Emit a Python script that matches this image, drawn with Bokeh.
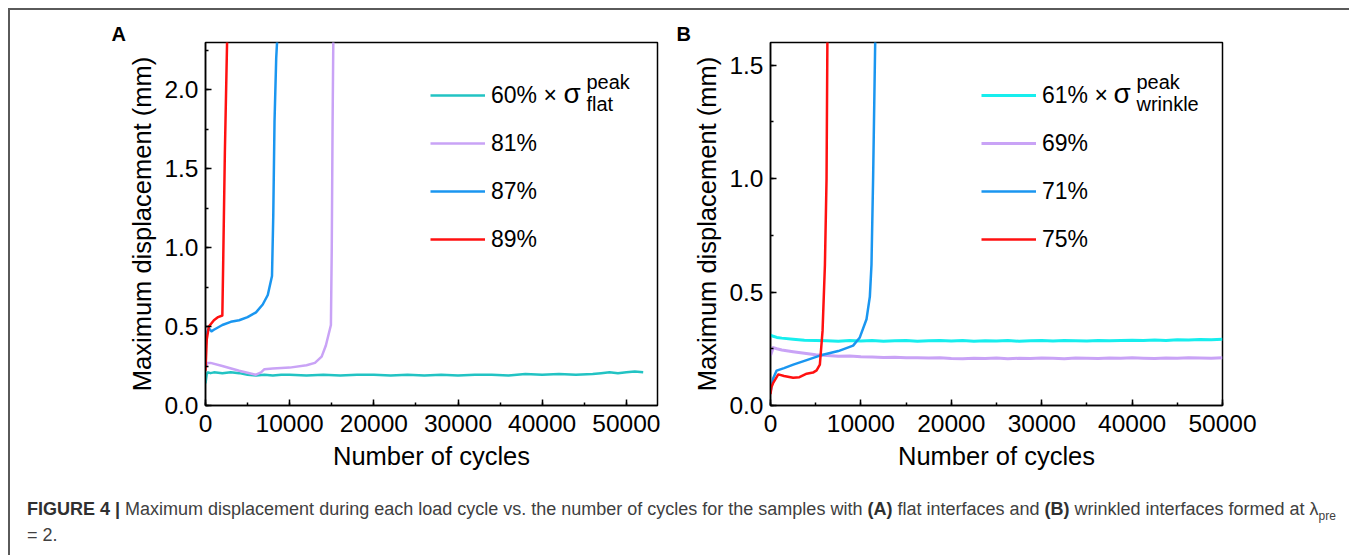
from bokeh.plotting import figure
from bokeh.models import (Legend, LegendItem, Label, Div, Range1d, Title,
                          SingleIntervalTicker, NumeralTickFormatter)
from bokeh.layouts import column, row
from bokeh.embed import file_html
from bokeh.resources import INLINE

# ---------------- data: panel A (flat interfaces) ----------------
cyc_a60 = [0, 150, 300, 600, 1000, 2000, 3000, 4000, 5000, 6000, 7000, 8000, 9000, 10000,
           12000, 14000, 16000, 18000, 20000, 22000, 24000, 26000, 28000, 30000, 32000,
           34000, 36000, 38000, 40000, 42000, 44000, 46000, 47000, 48000, 49000, 50000,
           51000, 52000]
disp_a60 = [0.14, 0.20, 0.21, 0.205, 0.21, 0.205, 0.21, 0.205, 0.195, 0.19, 0.195, 0.19,
            0.195, 0.195, 0.19, 0.195, 0.19, 0.195, 0.195, 0.19, 0.195, 0.19, 0.195, 0.19,
            0.195, 0.195, 0.19, 0.2, 0.195, 0.2, 0.195, 0.2, 0.205, 0.21, 0.205, 0.21,
            0.215, 0.21]
cyc_a81 = [0, 200, 600, 2000, 4000, 6000, 6600, 7000, 8000, 10000, 12000, 13000, 13800,
           14300, 14900, 15000, 15100, 15200]
disp_a81 = [0.23, 0.27, 0.27, 0.25, 0.22, 0.195, 0.21, 0.23, 0.235, 0.24, 0.255, 0.27, 0.31,
            0.38, 0.51, 1.0, 1.8, 2.4]
cyc_a87 = [0, 150, 400, 700, 1000, 2000, 3000, 4000, 5000, 6000, 6800, 7400, 7900, 8050,
           8200, 8400, 8600]
disp_a87 = [0.36, 0.46, 0.49, 0.47, 0.48, 0.51, 0.53, 0.54, 0.56, 0.59, 0.64, 0.70, 0.82,
            1.2, 1.8, 2.2, 2.4]
cyc_a89 = [0, 150, 400, 1000, 1500, 2000, 2100, 2300, 2600]
disp_a89 = [0.22, 0.42, 0.50, 0.54, 0.56, 0.57, 0.9, 1.6, 2.4]
labels_a = ["60% \u00d7", "81%", "87%", "89%"]

# ---------------- data: panel B (wrinkled interfaces) ----------------
cyc_b_long = [0, 300, 700, 1250, 2500, 3750, 5000, 6250, 7500, 8750, 10000, 11250, 12500,
              13750, 15000, 16250, 17500, 18750, 20000, 21250, 22500, 23750, 25000, 26250,
              27500, 28750, 30000, 31250, 32500, 33750, 35000, 36250, 37500, 38750, 40000,
              41250, 42500, 43750, 45000, 46250, 47500, 48750, 50000]
disp_b61 = [0.31, 0.305, 0.30, 0.297, 0.292, 0.288, 0.287, 0.285, 0.283, 0.286,
            0.284, 0.287, 0.283, 0.285, 0.286, 0.283, 0.285, 0.287, 0.284, 0.286,
            0.283, 0.285, 0.284, 0.286, 0.283, 0.285, 0.287, 0.284, 0.286, 0.285,
            0.284, 0.287, 0.285, 0.286, 0.288, 0.286, 0.289, 0.287, 0.29, 0.289,
            0.291, 0.29, 0.292]
disp_b69 = [0.22, 0.255, 0.25, 0.245, 0.237, 0.23, 0.224, 0.22, 0.217, 0.218,
            0.215, 0.214, 0.212, 0.213, 0.21, 0.211, 0.209, 0.21, 0.207, 0.206,
            0.208, 0.207, 0.209, 0.206, 0.208, 0.207, 0.209, 0.208, 0.206, 0.209,
            0.208, 0.207, 0.209, 0.208, 0.21, 0.208, 0.207, 0.209, 0.208, 0.21,
            0.209, 0.208, 0.21]
cyc_b71 = [0, 300, 680, 1500, 2520, 4000, 5460, 7500, 9140, 9880, 10620, 10990, 11170,
           11350, 11600]
disp_b71 = [0.06, 0.12, 0.154, 0.165, 0.18, 0.20, 0.22, 0.24, 0.264, 0.30, 0.38, 0.48, 0.62,
            1.0, 1.65]
cyc_b75 = [0, 100, 300, 860, 1500, 2500, 3200, 4000, 4700, 5100, 5460, 5760, 6020, 6200,
           6300]
disp_b75 = [0.05, 0.08, 0.10, 0.137, 0.13, 0.122, 0.125, 0.14, 0.145, 0.155, 0.18, 0.33,
            0.62, 1.0, 1.65]
labels_b = ["61% \u00d7", "69%", "71%", "75%"]

x_ticks_interval = 10000
y_ticks_interval = 0.5

FONT = "Liberation Sans"


def make_fig(width, xmax, ymax, ml, mr, letter):
    p = figure(width=width, height=465, x_range=Range1d(0, xmax), y_range=Range1d(0, ymax),
               output_backend="svg", toolbar_location=None,
               min_border_left=ml, min_border_right=mr, min_border_top=32,
               min_border_bottom=70)
    p.title = Title(text=letter, align="left", offset=-94, standoff=-4,
                    text_font=FONT, text_font_size="20px", text_font_style="bold",
                    text_color="#000000")
    p.grid.visible = False
    p.outline_line_color = "#000000"
    p.outline_line_width = 1.5
    p.xaxis.ticker = SingleIntervalTicker(interval=x_ticks_interval, num_minor_ticks=2)
    p.yaxis.ticker = SingleIntervalTicker(interval=y_ticks_interval, num_minor_ticks=2)
    p.xaxis.formatter = NumeralTickFormatter(format="0")
    p.yaxis.formatter = NumeralTickFormatter(format="0.0")
    p.xaxis.axis_label = "Number of cycles"
    p.yaxis.axis_label = "Maximum displacement (mm)"
    for ax in (p.xaxis[0], p.yaxis[0]):
        ax.axis_line_width = 1.5
        ax.axis_line_color = "#000000"
        ax.major_tick_in = 6
        ax.major_tick_out = 0
        ax.minor_tick_in = 3
        ax.minor_tick_out = 0
        ax.major_tick_line_width = 1.5
        ax.minor_tick_line_width = 1.5
        ax.major_tick_line_color = "#000000"
        ax.minor_tick_line_color = "#000000"
        ax.major_label_text_font = FONT
        ax.major_label_text_font_size = "24.5px"
        ax.major_label_text_color = "#000000"
        ax.axis_label_text_font = FONT
        ax.axis_label_text_font_size = "25.5px"
        ax.axis_label_text_font_style = "normal"
        ax.axis_label_text_color = "#000000"
    p.xaxis.major_label_standoff = 9
    p.yaxis.major_label_standoff = 7
    p.xaxis.axis_label_standoff = 7
    p.yaxis.axis_label_standoff = 5
    return p


def add_legend(p, renderers, labels, vx):
    items = [LegendItem(label=l, renderers=[r]) for l, r in zip(labels, renderers)]
    leg = Legend(items=items, location=(vx, 152), orientation="vertical",
                 border_line_color=None, background_fill_alpha=0, padding=0, margin=0,
                 spacing=20, glyph_width=55, glyph_height=28, label_height=28,
                 label_standoff=6, label_text_font=FONT, label_text_font_size="23px",
                 label_text_color="#000000")
    p.add_layout(leg)


def add_sigma(p, x0, sub):
    p.add_layout(Label(x=x0, y=312, x_units="screen", y_units="screen", text="\u03c3",
                       text_font=FONT, text_font_size="28px", text_color="#000000",
                       text_baseline="middle"))
    p.add_layout(Label(x=x0 + 23, y=324, x_units="screen", y_units="screen", text="peak",
                       text_font=FONT, text_font_size="20px", text_color="#000000",
                       text_baseline="middle"))
    p.add_layout(Label(x=x0 + 23, y=302, x_units="screen", y_units="screen", text=sub,
                       text_font=FONT, text_font_size="20px", text_color="#000000",
                       text_baseline="middle"))


# ---------------- panel A ----------------
pA = make_fig(660, 53700, 2.3, 195, 13, "A")
rA60 = pA.line(cyc_a60, disp_a60, line_color="#22c3c3", line_width=2.5, line_join="round")
rA81 = pA.line(cyc_a81, disp_a81, line_color="#c9a3f6", line_width=2.5, line_join="round")
rA87 = pA.line(cyc_a87, disp_a87, line_color="#1a96f0", line_width=2.5, line_join="round")
rA89 = pA.line(cyc_a89, disp_a89, line_color="#ff1010", line_width=2.5, line_join="round")
add_legend(pA, [rA60, rA81, rA87, rA89], labels_a, 225)
add_sigma(pA, 358, "flat")

# ---------------- panel B ----------------
pB = make_fig(679, 50000, 1.6, 100, 127, "B")
rB61 = pB.line(cyc_b_long, disp_b61, line_color="#17eeee", line_width=3, line_join="round")
rB69 = pB.line(cyc_b_long, disp_b69, line_color="#c9a3f6", line_width=3, line_join="round")
rB71 = pB.line(cyc_b71, disp_b71, line_color="#1a96f0", line_width=2.5, line_join="round")
rB75 = pB.line(cyc_b75, disp_b75, line_color="#ff1010", line_width=2.5, line_join="round")
add_legend(pB, [rB61, rB69, rB71, rB75], labels_b, 211)
add_sigma(pB, 343, "wrinkle")

caption = Div(
    text=('<b style="color:#303030">FIGURE 4 |</b> Maximum displacement during each load cycle '
          'vs. the number of cycles for the samples with <b style="color:#303030">(A)</b> flat '
          'interfaces and <b style="color:#303030">(B)</b> wrinkled interfaces formed at '
          '\u03bb<sub style="font-size:12px; line-height:0">pre</sub><br>= 2.'),
    width=1337, height=78,
    styles={"font-family": "'Liberation Sans', Arial, sans-serif", "font-size": "18px",
            "color": "#404040", "line-height": "26px", "padding-top": "16px",
            "padding-left": "12px", "box-sizing": "border-box"})

layout = column(row(pA, pB), caption,
                styles={"border-top": "2px solid #5a5a5a", "border-left": "2px solid #5a5a5a",
                        "margin-left": "8px", "margin-top": "8px"})

open("out.html", "w").write(file_html(layout, INLINE))
